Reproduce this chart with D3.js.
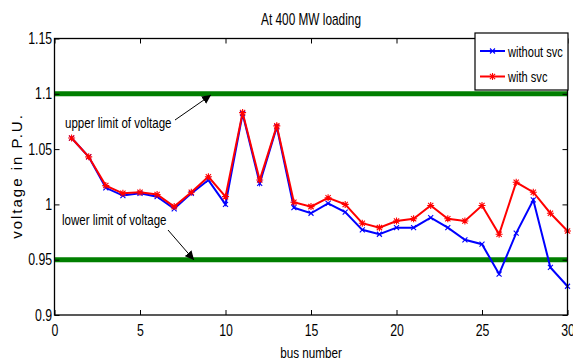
<!DOCTYPE html>
<html>
<head>
<meta charset="utf-8">
<script src="https://cdn.jsdelivr.net/npm/d3@7"></script>
<style>
  body { margin: 0; background: #fff; }
  svg { display: block; }
  text { font-family: "Liberation Sans", Arial, sans-serif; }
</style>
</head>
<body>
<svg id="chart" width="573" height="364"></svg>
<script>
// bus numbers and voltages (p.u.)
var buses = d3.range(1, 31);
var withoutSvc = [1.060, 1.043, 1.015, 1.008, 1.010, 1.007, 0.996, 1.010, 1.022, 1.000,
                  1.082, 1.019, 1.070, 0.997, 0.992, 1.001, 0.993, 0.977, 0.973, 0.979,
                  0.979, 0.988, 0.979, 0.968, 0.964, 0.937, 0.974, 1.004, 0.943, 0.926];
var withSvc    = [1.060, 1.043, 1.017, 1.010, 1.011, 1.009, 0.998, 1.011, 1.025, 1.007,
                  1.083, 1.022, 1.071, 1.002, 0.998, 1.006, 1.000, 0.983, 0.979, 0.985,
                  0.987, 0.999, 0.987, 0.985, 0.999, 0.973, 1.020, 1.011, 0.992, 0.976];
var limits = [1.1, 0.95];
var xTicks = [0, 5, 10, 15, 20, 25, 30];
var yTicks = [0.9, 0.95, 1, 1.05, 1.1, 1.15];

var svg = d3.select("#chart");
svg.append("rect").attr("width", 573).attr("height", 364).attr("fill", "#fff");

var x = d3.scaleLinear().domain([0, 30]).range([54.5, 567.5]);
var y = d3.scaleLinear().domain([0.9, 1.15]).range([315, 38.5]);

// condensed text placed at (tx, ty) - the figure's text is squeezed horizontally
function label(parent, tx, ty, size, sq, str, anchor) {
    return parent.append("text")
        .attr("transform", "translate(" + tx + "," + ty + ") scale(" + sq + ",1)")
        .attr("text-anchor", anchor || "start")
        .attr("font-size", size)
        .attr("fill", "#000")
        .text(str);
}

var plot = svg.append("g");

// limit lines
plot.selectAll(".limit")
    .data(limits)
    .enter().append("line")
    .attr("x1", x(0)).attr("x2", x(30))
    .attr("y1", function(d) { return y(d); })
    .attr("y2", function(d) { return y(d); })
    .attr("stroke", "#007f00")
    .attr("stroke-width", 5);

// axes (ticks point inward, matlab style)
function styleAxis(g) {
    g.select(".domain").remove();
    g.selectAll(".tick line").attr("stroke", "#000");
    g.selectAll("text")
        .attr("font-family", "'Liberation Sans', Arial, sans-serif")
        .attr("font-size", 16).attr("fill", "#000")
        .attr("transform", "scale(0.77,1)");
}
svg.append("g").attr("transform", "translate(0," + y(0.9) + ")")
    .call(d3.axisBottom(x).tickValues(xTicks).tickSizeInner(-5).tickSizeOuter(0).tickPadding(10).tickFormat(d3.format("d")))
    .call(styleAxis);
svg.append("g").attr("transform", "translate(0," + y(1.15) + ")")
    .call(d3.axisTop(x).tickValues(xTicks).tickSizeInner(-5).tickSizeOuter(0).tickFormat(""))
    .call(styleAxis);
svg.append("g").attr("transform", "translate(" + x(0) + ",0)")
    .call(d3.axisLeft(y).tickValues(yTicks).tickSizeInner(-5).tickSizeOuter(0).tickPadding(3).tickFormat(d3.format("~g")))
    .call(styleAxis);
svg.append("g").attr("transform", "translate(" + x(30) + ",0)")
    .call(d3.axisRight(y).tickValues(yTicks).tickSizeInner(-5).tickSizeOuter(0).tickFormat(""))
    .call(styleAxis);

svg.append("rect")
    .attr("x", x(0)).attr("y", y(1.15))
    .attr("width", x(30) - x(0)).attr("height", y(0.9) - y(1.15))
    .attr("fill", "none").attr("stroke", "#000").attr("stroke-width", 1.3);

// markers
function xMark(s) { return "M" + (-s) + "," + (-s) + "L" + s + "," + s + "M" + (-s) + "," + s + "L" + s + "," + (-s); }
function starMark(s) { return xMark(s * 0.75) + "M0," + (-s) + "L0," + s + "M" + (-s) + ",0L" + s + ",0"; }

var series = [
    { name: "without svc", values: withoutSvc, color: "#0000ff", marker: xMark(2.5) },
    { name: "with svc", values: withSvc, color: "#ff0000", marker: starMark(3.5) }
];

var line = d3.line()
    .x(function(d, i) { return x(buses[i]); })
    .y(function(d) { return y(d); });

series.forEach(function(s) {
    plot.append("path")
        .datum(s.values)
        .attr("d", line)
        .attr("fill", "none")
        .attr("stroke", s.color)
        .attr("stroke-width", 2);
    plot.selectAll(null)
        .data(s.values)
        .enter().append("path")
        .attr("transform", function(d, i) { return "translate(" + x(buses[i]) + "," + y(d) + ")"; })
        .attr("d", s.marker)
        .attr("stroke", s.color)
        .attr("stroke-width", 1.1)
        .attr("fill", "none");
});

// annotations
svg.append("defs").append("marker")
    .attr("id", "arrow")
    .attr("viewBox", "0 0 10 10")
    .attr("refX", 10).attr("refY", 5)
    .attr("markerWidth", 9).attr("markerHeight", 9)
    .attr("markerUnits", "userSpaceOnUse")
    .attr("orient", "auto")
    .append("path").attr("d", "M0,0L10,5L0,10z").attr("fill", "#000");

var notes = [
    { text: "upper limit of voltage", tx: 65, ty: 128, x1: 175, y1: 120, x2: 211, y2: 95 },
    { text: "lower limit of voltage", tx: 62, ty: 225, x1: 168, y1: 230, x2: 194, y2: 260 }
];
notes.forEach(function(n) {
    label(svg, n.tx, n.ty, 15, 0.77, n.text);
    svg.append("line")
        .attr("x1", n.x1).attr("y1", n.y1).attr("x2", n.x2).attr("y2", n.y2)
        .attr("stroke", "#000").attr("stroke-width", 1)
        .attr("marker-end", "url(#arrow)");
});

// legend
var legend = svg.append("g").attr("transform", "translate(475,33)");
legend.append("rect").attr("width", 93).attr("height", 57)
    .attr("fill", "#fff").attr("stroke", "#000").attr("stroke-width", 1.2);
series.forEach(function(s, i) {
    var ly = 18 + i * 25.5;
    legend.append("line").attr("x1", 5).attr("x2", 30).attr("y1", ly).attr("y2", ly)
        .attr("stroke", s.color).attr("stroke-width", 2);
    legend.append("path").attr("transform", "translate(17.5," + ly + ")")
        .attr("d", s.marker).attr("stroke", s.color).attr("stroke-width", 1.1).attr("fill", "none");
    label(legend, 33, ly + 5.5, 15, 0.74, s.name);
});

// titles
label(svg, 311, 25, 16, 0.74, "At 400 MW loading", "middle");
label(svg, 311, 358, 15, 0.78, "bus number", "middle");
svg.append("text")
    .attr("transform", "translate(22,176) rotate(-90)")
    .attr("text-anchor", "middle")
    .attr("font-size", 15).attr("letter-spacing", 2)
    .text("voltage in P.U.");
</script>
</body>
</html>
